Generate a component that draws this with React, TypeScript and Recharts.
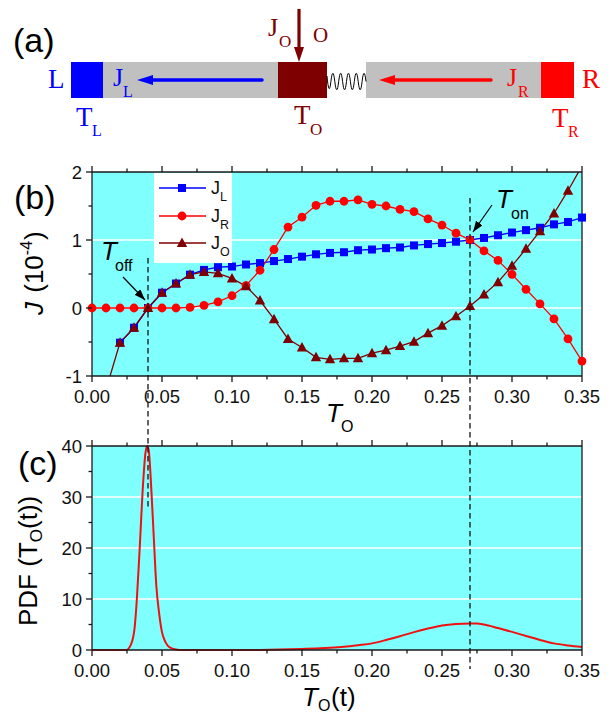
import { CartesianGrid, Line, LineChart, XAxis, YAxis } from "recharts";

const SANS = "'Liberation Sans', Arial, sans-serif";
const SERIF = "'Liberation Serif', 'Times New Roman', serif";
const BLUE = "#0000ff";
const RED = "#ff0000";
const MAROON = "#7f0000";
const CYAN = "#80ffff";
const AXIS = "#1a1a1a";

// panel (b)
const temps = [
  0, 0.01, 0.02, 0.03, 0.04, 0.05, 0.06, 0.07, 0.08, 0.09, 0.1, 0.11, 0.12, 0.13, 0.14, 0.15, 0.16, 0.17,
  0.18, 0.19, 0.2, 0.21, 0.22, 0.23, 0.24, 0.25, 0.26, 0.27, 0.28, 0.29, 0.3, 0.31, 0.32, 0.33, 0.34, 0.35,
];
const jLeft = [
  null, null, -0.51, -0.29, 0, 0.225, 0.36, 0.49, 0.56, 0.6, 0.61, 0.64, 0.66, 0.69, 0.72, 0.755, 0.79, 0.81,
  0.82, 0.85, 0.86, 0.88, 0.89, 0.92, 0.94, 0.955, 0.975, 1.0, 1.03, 1.07, 1.11, 1.145, 1.18, 1.23, 1.265, 1.33,
];
const jRight = [
  0, 0, 0, 0, 0, 0, 0, 0.01, 0.04, 0.09, 0.18, 0.33, 0.555, 0.86, 1.19, 1.335, 1.51, 1.57,
  1.57, 1.59, 1.525, 1.5, 1.45, 1.417, 1.31, 1.22, 1.1, 1.0, 0.84, 0.7, 0.495, 0.275, 0.06, -0.16, -0.455, -0.78,
];
const jOther = [
  -2.0, -1.2, -0.51, -0.29, 0, 0.225, 0.36, 0.49, 0.53, 0.51, 0.435, 0.32, 0.11, -0.165, -0.455, -0.58, -0.725, -0.755,
  -0.74, -0.74, -0.665, -0.62, -0.56, -0.495, -0.37, -0.26, -0.12, 0.03, 0.2, 0.38, 0.62, 0.87, 1.13, 1.39, 1.725, 2.09,
];

// panel (c)
const pdfTemps = [
  0, 0.01, 0.02, 0.0245, 0.028, 0.0305, 0.032, 0.034, 0.0365, 0.038, 0.0393, 0.0405, 0.0424, 0.044, 0.046, 0.048,
  0.05, 0.0524, 0.0555, 0.06, 0.065, 0.1, 0.12, 0.15, 0.16, 0.17, 0.18, 0.19, 0.2, 0.21, 0.22, 0.23, 0.24, 0.25, 0.26, 0.27, 0.275, 0.28,
  0.29, 0.3, 0.31, 0.32, 0.33, 0.34, 0.35,
];
const pdfValues = [
  0, 0, 0, 0, 1.2, 4.5, 9.8, 19.6, 32.7, 38.2, 40, 39.2, 31.4, 22.8, 12.4, 7.1,
  3.5, 1.6, 0.5, 0.1, 0, 0, 0.02, 0.2, 0.3, 0.45, 0.65, 0.95, 1.3, 1.95, 2.7, 3.5, 4.2, 4.8, 5.1, 5.2, 5.2, 5.0,
  4.3, 3.55, 2.76, 1.97, 1.3, 0.9, 0.6,
];

const xTicks = [
  0, 0.025, 0.05, 0.075, 0.1, 0.125, 0.15, 0.175, 0.2, 0.225, 0.25, 0.275, 0.3, 0.325, 0.35,
];
const jTicks = [-1, -0.5, 0, 0.5, 1, 1.5, 2];
const pdfTicks = [0, 5, 10, 15, 20, 25, 30, 35, 40];
const tOff = 0.04;
const tOn = 0.27;

const fluxRows = temps.map((t, i) => ({ t, jLeft: jLeft[i], jRight: jRight[i], jOther: jOther[i] }));
const pdfRows = pdfTemps.map((t, i) => ({ t, pdf: pdfValues[i] }));

const xPx = (t: number) => 92 + t * 1400;

function Square({ cx, cy }: { cx: number; cy: number }) {
  return <rect x={cx - 4} y={cy - 4} width={8} height={8} fill={BLUE} />;
}
function Circle({ cx, cy }: { cx: number; cy: number }) {
  return <circle cx={cx} cy={cy} r={4.4} fill={RED} />;
}
function Triangle({ cx, cy }: { cx: number; cy: number }) {
  return <polygon points={`${cx},${cy - 5.5} ${cx + 5.2},${cy + 4} ${cx - 5.2},${cy + 4}`} fill={MAROON} />;
}

const dotWith = (Mark: typeof Square) => (p: any) =>
  p.cy == null ? <g key={p.key ?? p.index} /> : <g key={p.key ?? p.index}><Mark cx={p.cx} cy={p.cy} /></g>;

const xTick = (side: "top" | "bottom") => (p: any) => {
  const v = p.payload.value;
  const major = Math.round(v * 1000) % 50 === 0;
  const len = major ? 6 : 3.5;
  const dir = side === "top" ? -1 : 1;
  return (
    <g key={p.index}>
      <line x1={p.x} x2={p.x} y1={p.y} y2={p.y + dir * len} stroke={AXIS} strokeWidth={1.3} />
      {side === "bottom" && major ? (
        <text x={p.x} y={p.y + 27} textAnchor="middle" fontFamily={SANS} fontSize={18.5} fill="#111">
          {v.toFixed(2)}
        </text>
      ) : null}
    </g>
  );
};

const yTick = (side: "left" | "right", labelEvery: number) => (p: any) => {
  const v = p.payload.value;
  const major = v % labelEvery === 0;
  const len = major ? 6 : 3.5;
  const dir = side === "left" ? -1 : 1;
  return (
    <g key={p.index}>
      <line x1={p.x} x2={p.x + dir * len} y1={p.y} y2={p.y} stroke={AXIS} strokeWidth={1.3} />
      {side === "left" && major ? (
        <text x={p.x - 10} y={p.y + 6.5} textAnchor="end" fontFamily={SANS} fontSize={18.5} fill="#111">
          {v}
        </text>
      ) : null}
    </g>
  );
};

function Sub({ x, y, size, fill, family, children }: any) {
  return (
    <text x={x} y={y} fontSize={size} fill={fill} fontFamily={family}>
      {children}
    </text>
  );
}

function Spring() {
  let d = "M327 76";
  const periods = 5;
  const step = 39 / (periods * 2);
  for (let i = 0; i < periods * 2; i++) {
    const x0 = 327 + i * step;
    const ctrl = i % 2 === 0 ? 98 : 65;
    d += ` Q${x0 + step / 2} ${ctrl} ${x0 + step} 81.5`;
  }
  return <path d={d} fill="none" stroke="#000" strokeWidth={1} />;
}

function PanelA() {
  return (
    <g>
      <rect x={103} y={62} width={175} height={36} fill="#c0c0c0" />
      <rect x={366} y={62} width={175} height={36} fill="#c0c0c0" />
      <rect x={71} y={62} width={32} height={36} fill={BLUE} />
      <rect x={278} y={62} width={49} height={36} fill={MAROON} />
      <rect x={541} y={62} width={33} height={36} fill={RED} />
      <Spring />
      <line x1={262} x2={150} y1={80} y2={80} stroke={BLUE} strokeWidth={3.5} strokeLinecap="round" />
      <polygon points="137,80 153,75 153,85" fill={BLUE} />
      <line x1={491} x2={392} y1={80} y2={80} stroke={RED} strokeWidth={3.5} strokeLinecap="round" />
      <polygon points="379,80 395,75 395,85" fill={RED} />
      <line x1={299} x2={299} y1={9} y2={50} stroke={MAROON} strokeWidth={3.2} />
      <polygon points="299,62 294,47 304,47" fill={MAROON} />

      <Sub x={48} y={88} size={27} fill={BLUE} family={SERIF}>L</Sub>
      <Sub x={113} y={86} size={26} fill={BLUE} family={SERIF}>J</Sub>
      <Sub x={123} y={97} size={16} fill={BLUE} family={SERIF}>L</Sub>
      <Sub x={76} y={126} size={27} fill={BLUE} family={SERIF}>T</Sub>
      <Sub x={92} y={136} size={16} fill={BLUE} family={SERIF}>L</Sub>

      <Sub x={268} y={36} size={26} fill={MAROON} family={SERIF}>J</Sub>
      <Sub x={279} y={47} size={17} fill={MAROON} family={SERIF}>O</Sub>
      <Sub x={313} y={42} size={21} fill={MAROON} family={SERIF}>O</Sub>
      <Sub x={294} y={124} size={27} fill={MAROON} family={SERIF}>T</Sub>
      <Sub x={310} y={135} size={17} fill={MAROON} family={SERIF}>O</Sub>

      <Sub x={582} y={88} size={27} fill={RED} family={SERIF}>R</Sub>
      <Sub x={507} y={86} size={26} fill={RED} family={SERIF}>J</Sub>
      <Sub x={518} y={97} size={16} fill={RED} family={SERIF}>R</Sub>
      <Sub x={552} y={127} size={27} fill={RED} family={SERIF}>T</Sub>
      <Sub x={568} y={137} size={16} fill={RED} family={SERIF}>R</Sub>
    </g>
  );
}

function LegendBox() {
  const rows = [
    { y: 188, color: BLUE, Mark: Square, sub: "L" },
    { y: 216, color: RED, Mark: Circle, sub: "R" },
    { y: 243, color: MAROON, Mark: Triangle, sub: "O" },
  ];
  return (
    <g>
      <rect x={154} y={173} width={78} height={90} fill="#fff" />
      {rows.map((r) => (
        <g key={r.sub}>
          <line x1={159} x2={206} y1={r.y} y2={r.y} stroke={r.color} strokeWidth={1.3} />
          <r.Mark cx={182} cy={r.y} />
          <Sub x={211} y={r.y + 6} size={18} fill="#111" family={SANS}>J</Sub>
          <Sub x={220} y={r.y + 13} size={12.5} fill="#111" family={SANS}>{r.sub}</Sub>
        </g>
      ))}
    </g>
  );
}

function Annotations() {
  return (
    <g>
      <defs>
        <marker id="tip" markerWidth="12" markerHeight="10" refX="11" refY="4" orient="auto" markerUnits="userSpaceOnUse">
          <path d="M0 0 L11 4 L0 8 Z" fill="#000" />
        </marker>
      </defs>
      <line x1={xPx(tOff)} x2={xPx(tOff)} y1={258} y2={509} stroke="#111" strokeWidth={1.3} strokeDasharray="5.5 3.5" />
      <line x1={xPx(tOn)} x2={xPx(tOn)} y1={198} y2={669} stroke="#111" strokeWidth={1.3} strokeDasharray="5.5 3.5" />
      <line x1={123} y1={277} x2={145} y2={300} stroke="#000" strokeWidth={1.2} markerEnd="url(#tip)" />
      <line x1={492} y1={205} x2={473} y2={232} stroke="#000" strokeWidth={1.2} markerEnd="url(#tip)" />

      <text x={101} y={260} fontFamily={SANS} fontStyle="italic" fontSize={26} fill="#000">T</text>
      <text x={115} y={271} fontFamily={SANS} fontSize={16} fill="#000">off</text>
      <text x={496} y={208} fontFamily={SANS} fontStyle="italic" fontSize={26} fill="#000">T</text>
      <text x={511} y={219} fontFamily={SANS} fontSize={16} fill="#000">on</text>

      <text x={13} y={52} fontFamily={SANS} fontSize={34} fill="#000">(a)</text>
      <text x={14} y={209} fontFamily={SANS} fontSize={34} fill="#000">(b)</text>
      <text x={18} y={475} fontFamily={SANS} fontSize={34} fill="#000">(c)</text>

      <text x={326} y={422} fontFamily={SANS} fontStyle="italic" fontSize={26} fill="#000">T</text>
      <text x={341} y={432} fontFamily={SANS} fontSize={16} fill="#000">O</text>

      <text x={302} y={706} fontFamily={SANS} fontStyle="italic" fontSize={26} fill="#000">T</text>
      <text x={318} y={711} fontFamily={SANS} fontSize={16} fill="#000">O</text>
      <text x={331} y={706} fontFamily={SANS} fontSize={26} fill="#000">(t)</text>

      <g transform="translate(43 315) rotate(-90)">
        <text fontFamily={SANS} fontSize={26} fill="#000">
          <tspan fontStyle="italic">J</tspan>
          <tspan dx={2}> (10</tspan>
          <tspan fontSize={16} dy={-11}>-4</tspan>
          <tspan dx={1} dy={11}>)</tspan>
        </text>
      </g>
      <g transform="translate(37 626) rotate(-90)">
        <text fontFamily={SANS} fontSize={26} fill="#000">
          <tspan>PDF (T</tspan>
          <tspan fontSize={17} dy={5}>O</tspan>
          <tspan dy={-5}>(t))</tspan>
        </text>
      </g>
    </g>
  );
}

const axisLine = { stroke: AXIS, strokeWidth: 1.3 };

export default function App() {
  return (
    <div style={{ position: "absolute", left: 0, top: 0, width: 612, height: 715, background: "#fff", overflow: "hidden" }}>
      <div style={{ position: "absolute", left: 0, top: 140 }}>
        <LineChart width={612} height={290} data={fluxRows} margin={{ top: 22, right: 10, bottom: 24, left: 52 }}>
          <CartesianGrid xAxisId="bottom" yAxisId="left" fill={CYAN} stroke="#fff" strokeWidth={1.6} vertical={false} horizontalValues={[0, 1]} />
          <XAxis xAxisId="bottom" dataKey="t" type="number" domain={[0, 0.35]} ticks={xTicks} interval={0} height={30} tickSize={0} tickMargin={0} tickLine={false} axisLine={axisLine} tick={xTick("bottom")} />
          <XAxis xAxisId="top" orientation="top" dataKey="t" type="number" domain={[0, 0.35]} ticks={xTicks} interval={0} height={10} tickSize={0} tickMargin={0} tickLine={false} axisLine={axisLine} tick={xTick("top")} />
          <YAxis yAxisId="left" domain={[-1, 2]} ticks={jTicks} interval={0} width={40} tickSize={0} tickMargin={0} tickLine={false} axisLine={axisLine} tick={yTick("left", 1)} />
          <YAxis yAxisId="right" orientation="right" domain={[-1, 2]} ticks={jTicks} interval={0} width={20} tickSize={0} tickMargin={0} tickLine={false} axisLine={axisLine} tick={yTick("right", 1)} />
          <YAxis yAxisId="clip" hide width={0} domain={[-1, 2]} allowDataOverflow />
          <Line xAxisId="bottom" yAxisId="left" dataKey="jLeft" stroke={BLUE} strokeWidth={1.3} dot={dotWith(Square)} isAnimationActive={false} />
          <Line xAxisId="bottom" yAxisId="left" dataKey="jRight" stroke={RED} strokeWidth={1.3} dot={dotWith(Circle)} isAnimationActive={false} />
          <Line xAxisId="bottom" yAxisId="clip" dataKey="jOther" stroke={MAROON} strokeWidth={1.3} dot={dotWith(Triangle)} isAnimationActive={false} />
        </LineChart>
      </div>
      <div style={{ position: "absolute", left: 0, top: 414 }}>
        <LineChart width={612} height={290} data={pdfRows} margin={{ top: 22, right: 10, bottom: 24, left: 52 }}>
          <CartesianGrid xAxisId="bottom" yAxisId="left" fill={CYAN} stroke="#fff" strokeWidth={1.6} vertical={false} horizontalValues={[10, 20, 30]} />
          <XAxis xAxisId="bottom" dataKey="t" type="number" domain={[0, 0.35]} ticks={xTicks} interval={0} height={30} tickSize={0} tickMargin={0} tickLine={false} axisLine={axisLine} tick={xTick("bottom")} />
          <XAxis xAxisId="top" orientation="top" dataKey="t" type="number" domain={[0, 0.35]} ticks={xTicks} interval={0} height={10} tickSize={0} tickMargin={0} tickLine={false} axisLine={axisLine} tick={xTick("top")} />
          <YAxis yAxisId="left" domain={[0, 40]} ticks={pdfTicks} interval={0} width={40} tickSize={0} tickMargin={0} tickLine={false} axisLine={axisLine} tick={yTick("left", 10)} />
          <YAxis yAxisId="right" orientation="right" domain={[0, 40]} ticks={pdfTicks} interval={0} width={20} tickSize={0} tickMargin={0} tickLine={false} axisLine={axisLine} tick={yTick("right", 10)} />
          <Line xAxisId="bottom" yAxisId="left" dataKey="pdf" type="monotone" stroke="#f01010" strokeWidth={2} dot={false} isAnimationActive={false} />
        </LineChart>
      </div>
      <svg width={612} height={715} style={{ position: "absolute", left: 0, top: 0, pointerEvents: "none" }}>
        <PanelA />
        <LegendBox />
        <Annotations />
      </svg>
    </div>
  );
}
